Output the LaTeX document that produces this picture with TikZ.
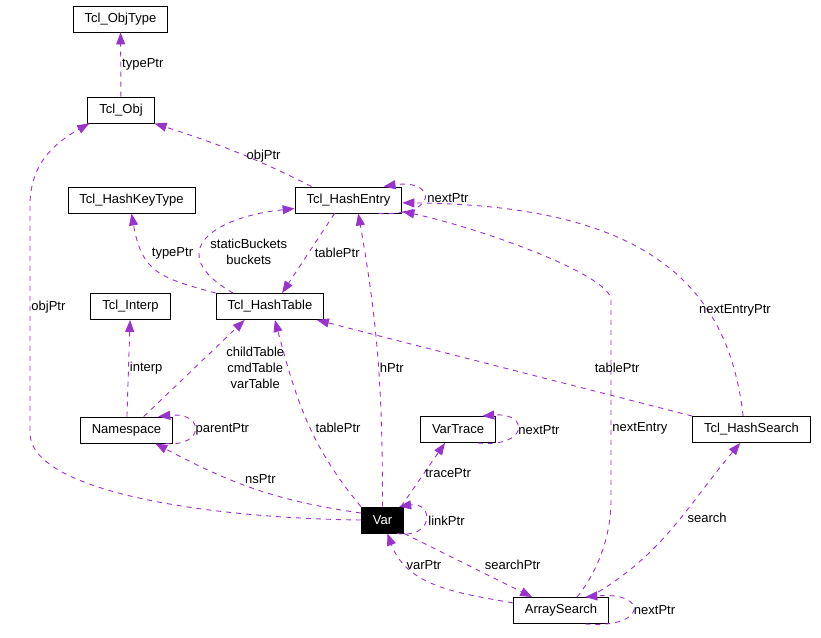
\documentclass[tikz,border=0pt]{standalone}
\usepackage{fontspec}
\setmainfont{Liberation Sans}
\usepackage{tikz}
\usetikzlibrary{arrows.meta}
\definecolor{memb}{HTML}{9A32CD}

\begin{document}
\begin{tikzpicture}[x=1pt,y=1pt,>={Triangle[length=12pt,width=9pt]},
		font=\fontsize{13}{16}\selectfont]
		\tikzstyle{klass}=[draw=black,fill=white,text=black,line width=0.9pt,
		minimum height=26pt,inner xsep=11.5pt,inner ysep=0pt]
		\tikzstyle{member}=[->,color=memb,line width=0.9pt,dash pattern=on 5pt off 5pt]
		\tikzstyle{lbl}=[text=black,inner sep=1pt]
		
		\useasboundingbox (0,0) rectangle (821,-637);
		
		\node[klass] (objtype) at (120.5,-19)  {Tcl\_ObjType};
		\node[klass] (obj)     at (121,-110)   {Tcl\_Obj};
		\node[klass] (keytype) at (131.5,-200) {Tcl\_HashKeyType};
		\node[klass] (entry)   at (348.5,-200) {Tcl\_HashEntry};
		\node[klass] (interp)  at (130.5,-306.5) {Tcl\_Interp};
		\node[klass] (table)   at (270,-306.5) {Tcl\_HashTable};
		\node[klass] (ns)      at (126.5,-430) {Namespace};
		\node[klass] (trace)   at (458,-429.5) {VarTrace};
		\node[klass] (hsearch) at (751.5,-429.5) {Tcl\_HashSearch};
		\node[klass,fill=black,text=white] (var) at (382.5,-520) {Var};
		\node[klass] (asearch) at (561,-610.5) {ArraySearch};
		
		
		
		\path[member]
		(obj) edge node[lbl,pos=0.5,anchor=west] {typePtr} (objtype);
		\path[member]
		(entry.160) edge [out=153,in=-18] node[lbl,pos=0.3,above] {objPtr} (obj.south east);
		\draw[member] (var.west) .. controls (200,-518) and (30,-490) .. (30,-433)
		-- (30,-205) node[lbl,pos=0.55,anchor=west] {objPtr}
		.. controls (30,-160) and (60,-140) .. (obj.203);
		
		\path[member]
		(table.north west) edge [out=165,in=-80,looseness=1.3] node[lbl,pos=0.7,anchor=west,xshift=7pt] {typePtr} (keytype.south);
		\path[member]
		(table.160) edge [out=150,in=186,looseness=2] node[lbl,align=center,pos=0.5,xshift=42pt,yshift=-13pt] {staticBuckets\\buckets} (entry.189);
		\path[member]
		(entry.224) edge node[lbl,pos=0.5,anchor=west,xshift=5pt] {tablePtr} (table.48);
		\draw[member] (entry.-24) .. controls +(62,-3) and +(52,8) .. (entry.21)
		node[lbl,pos=0.5,anchor=west,xshift=2pt] {nextPtr};
		
		\path[member]
		(ns) edge node[lbl,pos=0.5,anchor=west] {interp} (interp);
		\path[member]
		(ns.38) edge node[lbl,align=center,pos=0.5,xshift=61pt] {childTable\\cmdTable\\varTable} (table.208);
		\draw[member] (ns.-19) .. controls +(39,-4) and +(47,5) .. (ns.23)
		node[lbl,pos=0.5,anchor=west] {parentPtr};
		
		\path[member]
		(var.162) edge [out=172,in=-28] node[lbl,pos=0.47,above,yshift=6pt] {nsPtr} (ns.-25);
		\path[member]
		(var.north west) edge [out=130,in=-75] node[lbl,pos=0.45,anchor=west,xshift=4pt] {tablePtr} (table.-70);
		\path[member]
		(var.north) edge [out=90,in=-80] node[lbl,pos=0.47,anchor=west] {hPtr} (entry.-54);
		\path[member]
		(var.36) edge node[lbl,pos=0.52,anchor=west] {tracePtr} (trace.226);
		\path[member]
		(var.south east) edge node[lbl,pos=0.62,anchor=west,yshift=8pt] {searchPtr} (asearch.155);
		\draw[member] (var.-43) .. controls +(37,-6) and +(35,5) .. (var.39)
		node[lbl,pos=0.5,anchor=west,xshift=2pt] {linkPtr};
		
		\draw[member] (trace.-34) .. controls +(51,-5) and +(47,4) .. (trace.29)
		node[lbl,pos=0.5,anchor=west] {nextPtr};
		
		\path[member]
		(hsearch.north west) edge node[lbl,pos=0.2,yshift=29pt] {tablePtr} (table.-16);
		\draw[member] (hsearch.122) .. controls (728,-280) and (640,-205) .. (entry.-3)
		node[lbl,pos=0.3,anchor=west,xshift=-10pt] {nextEntryPtr};
		
		\path[member]
		(asearch.171) edge [out=170,in=-70] node[lbl,pos=0.6,yshift=13pt] {varPtr} (var.-70);
		\path[member]
		(asearch.25) edge [out=30,in=230] node[lbl,pos=0.57,anchor=west,xshift=5pt] {search} (hsearch.230);
		\draw[member] (asearch.40) .. controls (595,-575) and (611,-540) .. (611,-500)
		-- (611,-300) node[lbl,pos=0.36,anchor=west] {nextEntry}
		.. controls (611,-275) and (480,-228) .. (entry.-12);
		\draw[member] (asearch.-29) .. controls +(63,-5) and +(63,6) .. (asearch.29)
		node[lbl,pos=0.5,anchor=west] {nextPtr};
		\end{tikzpicture}
\end{document}
